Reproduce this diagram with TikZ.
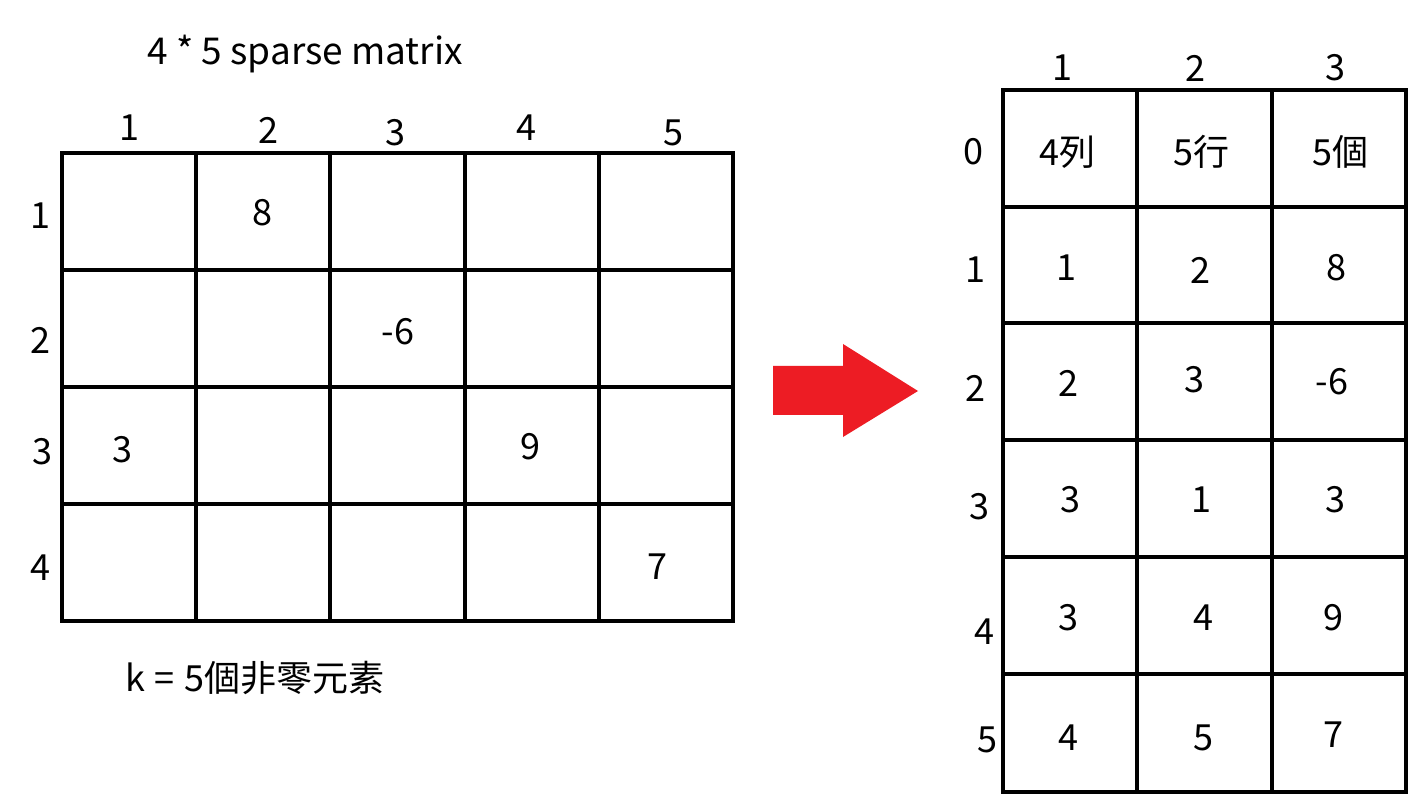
\documentclass[tikz,border=0pt]{standalone}
\usepackage{fontspec}
\setmainfont{Noto Sans CJK TC}
\definecolor{arrowred}{HTML}{ED1C24}
\tikzset{
  lbl/.style={inner sep=0pt, anchor=center, font=\fontsize{36}{40}\selectfont},
  gridline/.style={line width=4pt, line cap=rect},
}
\begin{document}
\begin{tikzpicture}[x=1pt, y=-1pt]
\useasboundingbox (0,0) rectangle (1428,810);
\fill[white] (0,0) rectangle (1428,810);
% title
\node[lbl, font=\fontsize{37}{40}\selectfont] (title) at (305,54) {4 * 5 sparse matrix};
% left grid
\foreach \x in {62,196.2,330.4,464.6,598.8,733} \draw[gridline] (\x,153) -- (\x,621);
\foreach \y in {153,270,387,504,621} \draw[gridline] (62,\y) -- (733,\y);
% left column headers
\node[lbl] (lc1) at (129,128) {1};
\node[lbl] (lc2) at (268,130) {2};
\node[lbl] (lc3) at (395,133) {3};
\node[lbl] (lc4) at (526,128) {4};
\node[lbl] (lc5) at (673,133) {5};
% left row labels
\node[lbl] (lr1) at (40,216) {1};
\node[lbl] (lr2) at (40,340) {2};
\node[lbl] (lr3) at (42,452) {3};
\node[lbl] (lr4) at (40,568) {4};
% entries
\node[lbl] (e12) at (262,213) {8};
\node[lbl] (e23) at (398,332) {-6};
\node[lbl] (e31) at (122,450) {3};
\node[lbl] (e34) at (530,447) {9};
\node[lbl] (e45) at (657,567) {7};
% bottom text
\node[lbl] (k) at (255,678) {k\hspace{0.28em}=\hspace{0.28em}5個非零元素};
% arrow
\fill[arrowred] (773,366) -- (843,366) -- (843,344) -- (918,391) -- (843,437) -- (843,415) -- (773,415) -- cycle;
% right grid
\foreach \x in {1003,1137,1272,1406} \draw[gridline] (\x,90) -- (\x,792);
\foreach \y in {90,207,323,440,557,674,792} \draw[gridline] (1003,\y) -- (1406,\y);
% right headers
\node[lbl] (rc1) at (1062,68) {1};
\node[lbl] (rc2) at (1195,68) {2};
\node[lbl] (rc3) at (1335,68) {3};
% right row labels
\node[lbl] (rr0) at (973,152) {0};
\node[lbl] (rr1) at (975,270) {1};
\node[lbl] (rr2) at (975,388) {2};
\node[lbl] (rr3) at (979,507) {3};
\node[lbl] (rr4) at (984,632) {4};
\node[lbl] (rr5) at (987,740) {5};
% right cells
\node[lbl] (t01) at (1067,152) {4列};
\node[lbl] (t02) at (1201,152) {5行};
\node[lbl] (t03) at (1340,152) {5個};
\node[lbl] (t11) at (1066,268) {1};
\node[lbl] (t12) at (1200,270) {2};
\node[lbl] (t13) at (1336,268) {8};
\node[lbl] (t21) at (1068,383) {2};
\node[lbl] (t22) at (1194,380) {3};
\node[lbl] (t23) at (1332,382) {-6};
\node[lbl] (t31) at (1070,500) {3};
\node[lbl] (t32) at (1201,500) {1};
\node[lbl] (t33) at (1335,500) {3};
\node[lbl] (t41) at (1068,618) {3};
\node[lbl] (t42) at (1203,618) {4};
\node[lbl] (t43) at (1333,618) {9};
\node[lbl] (t51) at (1068,738) {4};
\node[lbl] (t52) at (1203,738) {5};
\node[lbl] (t53) at (1333,735) {7};
\end{tikzpicture}
\end{document}
